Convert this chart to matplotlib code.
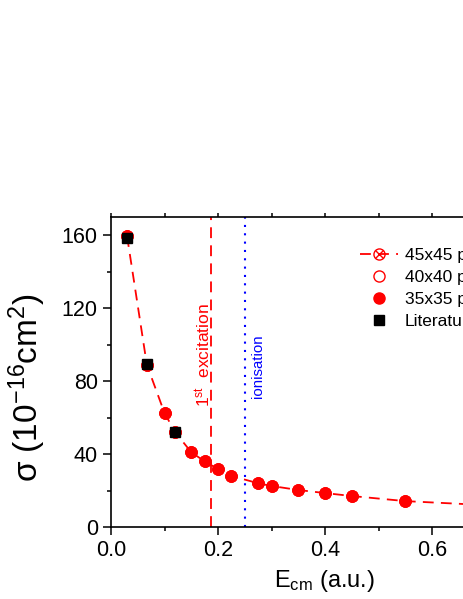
import matplotlib
matplotlib.use("Agg")
import matplotlib.pyplot as plt

plt.rcParams['font.family'] = ['Liberation Sans', 'DejaVu Sans']
plt.rcParams['mathtext.fontset'] = 'custom'
plt.rcParams['mathtext.rm'] = 'Liberation Sans'
plt.rcParams['mathtext.it'] = 'Liberation Sans'

# cross sections, 45x45 / 40x40 / 35x35 grids
e_calc = [0.03, 0.067, 0.1, 0.12, 0.15, 0.175, 0.2, 0.225, 0.275, 0.3, 0.35, 0.4, 0.45, 0.55]
s_calc = [159.5, 89.0, 62.5, 52.0, 41.0, 36.0, 31.8, 28.0, 24.0, 22.5, 20.3, 18.6, 17.0, 14.2]
e_45 = e_calc + [0.7, 0.8]
s_45 = s_calc + [12.0, 11.0]

# literature values
e_lit = [0.030, 0.068, 0.120]
s_lit = [158.4, 89.3, 52.0]

e_exc = 0.187
e_ion = 0.25

W, H = 463, 599
fig = plt.figure(figsize=(W / 100, H / 100), dpi=100)
ax = fig.add_axes([111 / W, 72 / H, 428 / W, 310 / H])

red = '#ff0000'
l45, = ax.plot(e_45, s_45, ls=(0, (6, 4)), color=red, lw=1.3, marker='o', ms=8,
               mfc='none', mec=red, mew=1.0, zorder=2)
x45, = ax.plot(e_45, s_45, ls='none', marker='x', ms=6, mec=red, mew=1.0, zorder=2)
l40, = ax.plot(e_calc, s_calc, ls='none', marker='o', ms=8, mfc='none', mec=red, mew=1.0, zorder=3)
l35, = ax.plot(e_calc, s_calc, ls='none', marker='o', ms=8, mfc=red, mec=red, zorder=4)
llit, = ax.plot(e_lit, s_lit, ls='none', marker='s', ms=6.5, mfc='black', mec='black', zorder=5)

ax.axvline(e_exc, color=red, ls=(0, (6, 4)), lw=1.3, zorder=1)
ax.axvline(e_ion, color='blue', ls=(0, (1, 3)), lw=1.5, zorder=1)
ax.text(e_exc - 0.015, 94, r'1$^{\rm st}$  excitation', color=red, rotation=90,
        ha='center', va='center', fontsize=12.5)
ax.text(e_ion + 0.025, 88, 'ionisation', color='blue', rotation=90,
        ha='center', va='center', fontsize=10.8)

ax.set_xlim(0, 0.8)
ax.set_ylim(0, 170)
ax.set_xticks([0.0, 0.2, 0.4, 0.6, 0.8])
ax.set_xticks([0.1, 0.3, 0.5, 0.7], minor=True)
ax.set_yticks([0, 40, 80, 120, 160])
ax.set_yticks([20, 60, 100, 140], minor=True)
ax.tick_params(which='both', labelsize=15.5, width=1.1, top=True, right=True)
ax.tick_params(which='major', length=6, direction='out')
ax.tick_params(which='minor', length=3, direction='out')
for t in ax.xaxis.get_ticklines(minor=False)[1::2] + ax.xaxis.get_ticklines(minor=True)[1::2]:
    t.set_markersize(3)
for s in ax.spines.values():
    s.set_linewidth(1.2)

ax.set_xlabel(r'E$_{\rm cm}$ (a.u.)', fontsize=17, labelpad=5)
ax.set_ylabel(r'$\sigma$ (10$^{-16}$cm$^2$)', fontsize=24)
ax.yaxis.set_label_coords(-0.147, 0.45)

ax.legend([(l45, x45), l40, l35, llit],
          ['45x45 pts', '40x40 pts', '35x35 pts', 'Literature'],
          loc='upper left', bbox_to_anchor=(344 / W, 1 - 232 / H),
          bbox_transform=fig.transFigure, frameon=False, fontsize=12.5,
          handlelength=2.2, handletextpad=0.4, labelspacing=0.4)

fig.savefig('out.png', dpi=100)
